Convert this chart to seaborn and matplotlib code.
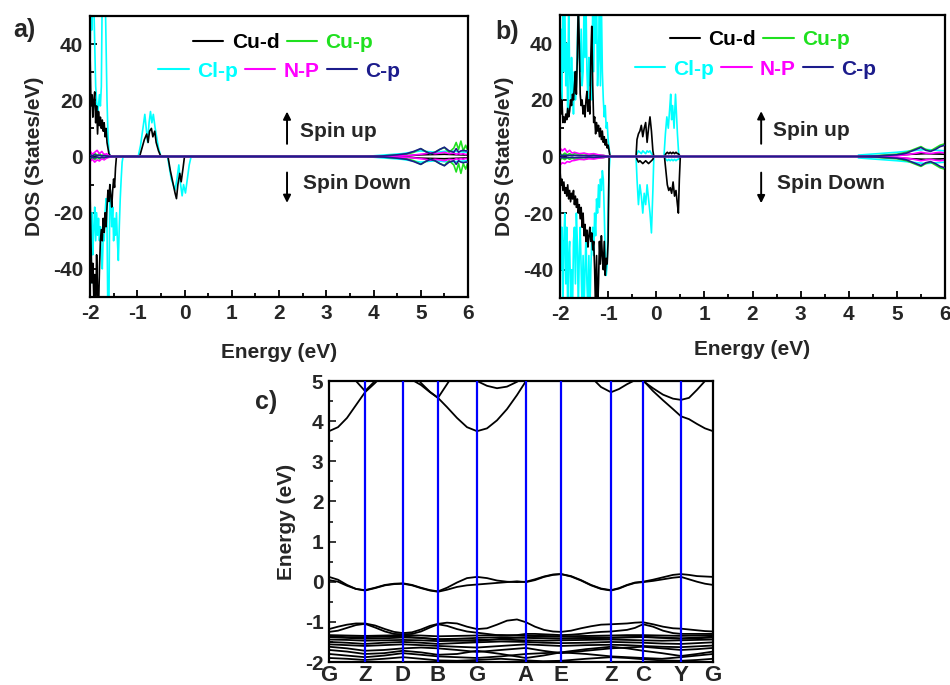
import numpy as np
import pandas as pd
import matplotlib
matplotlib.use("Agg")
import matplotlib.pyplot as plt
from matplotlib import font_manager
from matplotlib.lines import Line2D
from matplotlib.ticker import MultipleLocator
import seaborn as sns

# ---------------- data ----------------
LABELS = ["Cu-d", "Cu-p", "Cl-p", "N-P", "C-p"]
COLORS = ["#000000", "#1fe01f", "#00ffff", "#ff00ff", "#1c1c8c"]

# Panel a) ---------------------------------------------------------
A_CUD_UP_E = [-2.00, -1.98, -1.96, -1.94, -1.92, -1.90, -1.88, -1.86, -1.84, -1.82, -1.80, -1.78,
              -1.76, -1.74, -1.72, -1.70, -1.68, -1.66, -1.64, -1.62, -1.60, -1.58, -1.55,
              -0.95, -0.90, -0.85, -0.80, -0.77, -0.74, -0.70, -0.67, -0.63, -0.60, -0.55, -0.50,
              4.5, 5.0, 5.5, 6.0]
A_CUD_UP = [38, 18, 22, 14, 20, 23, 12, 18, 8, 16, 11, 14, 10, 13, 9, 12, 7, 10, 5, 3, 1, 0.5, 0,
            0, 3, 6, 8, 5, 9, 10, 7, 9, 5, 2, 0,
            0, 0.6, 0.8, 0.5]
A_CUD_DN_E = [-2.00, -1.98, -1.96, -1.94, -1.92, -1.90, -1.88, -1.86, -1.84, -1.82, -1.80, -1.78,
              -1.76, -1.74, -1.72, -1.70, -1.68, -1.66, -1.64, -1.62, -1.60, -1.58, -1.56, -1.54,
              -1.52, -1.50, -1.48, -1.46, -1.44,
              -0.35, -0.30, -0.25, -0.20, -0.17, -0.14, -0.10, -0.07, -0.03, 0.00,
              4.5, 5.0, 5.5, 6.0]
A_CUD_DN = [-12, -30, -45, -38, -50, -42, -55, -35, -48, -55, -40, -30, -26, -30, -22, -27, -20,
            -25, -18, -12, -16, -10, -14, -18, -12, -8, -11, -4, 0,
            0, -5, -9, -13, -15, -10, -6, -9, -4, 0,
            0, -0.6, -0.8, -0.5]
A_CLP_UP_E = [-2.00, -1.98, -1.96, -1.94, -1.92, -1.90, -1.88, -1.86, -1.84, -1.82, -1.80, -1.78,
              -1.76, -1.74, -1.72, -1.70, -1.68, -1.66, -1.64, -1.62, -1.60, -1.58,
              -0.98, -0.93, -0.88, -0.84, -0.81, -0.78, -0.75, -0.72, -0.69, -0.66, -0.62, -0.58,
              -0.55, -0.50,
              3.8, 4.2, 4.6, 5.0, 5.3, 5.6, 6.0]
A_CLP_UP = [30, 60, 45, 60, 55, 40, 25, 20, 15, 18, 22, 18, 25, 60, 60, 55, 60, 40, 20, 8, 2, 0,
            0, 4, 10, 15, 10, 5, 12, 16, 12, 15, 10, 6, 3, 0,
            0, 0.5, 1.0, 2.0, 1.5, 2.0, 1.5]
A_CLP_DN_E = [-2.00, -1.98, -1.96, -1.94, -1.92, -1.90, -1.88, -1.86, -1.84, -1.82, -1.80, -1.78,
              -1.76, -1.74, -1.72, -1.70, -1.68, -1.66, -1.64, -1.62, -1.60, -1.58, -1.56, -1.54,
              -1.52, -1.50, -1.48, -1.46, -1.44, -1.42, -1.40, -1.38, -1.36, -1.34, -1.32, -1.30,
              -0.36, -0.32, -0.28, -0.24, -0.20, -0.16, -0.12, -0.09, -0.05, -0.02, 0.02, 0.06,
              0.10, 0.14,
              3.8, 4.2, 4.6, 5.0, 5.3, 5.6, 6.0]
A_CLP_DN = [-30, -45, -20, -35, -25, -18, -30, -20, -28, -22, -30, -25, -35, -40, -28, -30, -20,
            -15, -25, -60, -55, -10, -15, -25, -18, -30, -22, -28, -20, -30, -37, -25, -15, -8, -2, 0,
            0, -4, -8, -10, -12, -8, -3, -9, -14, -10, -13, -8, -3, 0,
            0, -0.5, -1.0, -2.0, -1.5, -2.0, -1.5]
A_SMALL_E = [-2.0, -1.95, -1.9, -1.85, -1.8, -1.75, -1.7, -1.65, -1.6, -1.5, 3.8, 4.2, 4.5, 4.7,
             4.85, 5.0, 5.1, 5.2, 5.3, 5.4, 5.5, 5.6, 5.7, 5.75, 5.8, 5.85, 5.9, 5.95, 6.0]
A_CUP_UP = [1.0, 0.3, 1.2, 0.4, 1.0, 0.3, 0.8, 0.3, 0.2, 0.0, 0.0, 0.2, 0.5, 0.8, 1.5, 2.8, 1.8,
            1.0, 1.5, 2.5, 3.2, 1.5, 3.0, 5.0, 2.5, 5.5, 2.0, 4.0, 2.0]
A_CUP_DN = [-1.0, -0.4, -1.1, -0.3, -0.9, -0.4, -0.7, -0.3, -0.2, 0.0, 0.0, -0.2, -0.5, -0.8,
            -1.5, -2.8, -1.8, -1.0, -1.5, -2.5, -3.2, -1.5, -3.0, -5.5, -2.5, -6.0, -2.5, -4.5, -2.0]
A_NP_UP = [2.0, 0.8, 1.5, 2.2, 1.0, 1.8, 0.6, 1.0, 0.3, 0.0, 0.0, 0.1, 0.2, 0.3, 0.5, 0.8, 1.0,
           1.3, 1.0, 1.2, 1.5, 1.0, 1.2, 0.8, 1.0, 0.8, 1.0, 0.7, 0.8]
A_NP_DN = [-1.8, -1.0, -2.0, -1.2, -1.6, -0.8, -1.2, -0.6, -0.3, 0.0, 0.0, -0.1, -0.2, -0.3, -0.5,
           -0.8, -1.0, -1.3, -1.0, -1.2, -1.5, -1.0, -1.2, -0.8, -1.0, -0.8, -1.0, -0.7, -0.8]
A_CP_UP = [0.5, 0.2, 0.6, 0.3, 0.4, 0.2, 0.3, 0.2, 0.1, 0.0, 0.0, 0.2, 0.6, 1.0, 1.8, 2.8, 1.8,
           1.0, 1.5, 2.5, 3.3, 2.0, 1.5, 2.8, 1.5, 2.0, 2.2, 2.0, 2.0]
A_CP_DN = [-0.5, -0.3, -0.5, -0.2, -0.4, -0.3, -0.3, -0.2, -0.1, 0.0, 0.0, -0.2, -0.6, -1.0, -1.8,
           -2.8, -1.8, -1.0, -1.5, -2.5, -3.3, -2.0, -1.5, -2.8, -1.5, -2.0, -2.2, -2.0, -2.0]

# Panel b) ---------------------------------------------------------
B_LEFT_E = [-2.00, -1.98, -1.96, -1.94, -1.92, -1.90, -1.88, -1.86, -1.84, -1.82, -1.80, -1.78,
            -1.76, -1.74, -1.72, -1.70, -1.68, -1.66, -1.64, -1.62, -1.60, -1.58, -1.56, -1.54,
            -1.52, -1.50, -1.48, -1.46, -1.44, -1.42, -1.40, -1.38, -1.36, -1.34, -1.32, -1.30,
            -1.28, -1.26, -1.24, -1.22, -1.20, -1.18, -1.16, -1.14, -1.12, -1.10, -1.08, -1.06,
            -1.04, -1.02, -1.00, -0.98, -0.96]
B_CUD_UP_L = [25, 15, 20, 12, 14, 12, 15, 13, 17, 14, 16, 20, 18, 22, 20, 25, 30, 22, 35, 55,
              40, 22, 18, 20, 15, 18, 14, 20, 23, 16, 20, 15, 35, 46, 25, 12, 14, 8, 12, 9,
              11, 7, 10, 6, 9, 5, 7, 4, 6, 3, 4, 2, 0]
B_CUD_DN_L = [-5, -10, -8, -12, -9, -13, -11, -14, -10, -15, -12, -16, -13, -15, -12, -17, -14,
              -18, -15, -20, -17, -22, -18, -25, -20, -28, -24, -30, -26, -32, -28, -25, -30, -27,
              -33, -30, -40, -55, -35, -55, -45, -30, -38, -28, -35, -40, -30, -42, -36, -38, -30,
              0, 0]
B_CLP_UP_L = [10, 45, 20, 55, 30, 55, 25, 40, 15, 55, 30, 20, 35, 25, 15, 30, 20, 25, 40, 55,
              35, 30, 45, 25, 30, 55, 35, 55, 30, 20, 35, 25, 30, 20, 55, 30, 55, 40, 55, 25,
              35, 55, 25, 55, 30, 20, 14, 18, 10, 12, 6, 3, 0]
B_CLP_DN_L = [-10, -40, -25, -55, -30, -20, -45, -25, -55, -35, -30, -50, -40, -55, -30, -25, -45,
              -20, -30, -55, -35, -25, -40, -55, -35, -55, -40, -28, -45, -55, -35, -55, -40, -30,
              -25, -35, -20, -28, -15, -20, -10, -18, -8, -12, -5, -8, -20, -35, -42, -38, -20, -5, 0]
B_MID_E = [-0.42, -0.40, -0.37, -0.34, -0.31, -0.28, -0.25, -0.22, -0.19, -0.16, -0.13, -0.10,
           -0.07, -0.05]
B_CUD_UP_M = [0, 6, 8, 9, 11, 7, 10, 12, 5, 10, 14, 9, 2, 0]
B_CUD_DN_M = [0, -1, -2, -1.5, -2, -2.5, -2, -1.5, -2, -2.5, -2, -1.5, -1, 0]
B_CLP_UP_M = [0, 1, 2, 1.5, 1, 2, 1.5, 1, 2, 1.5, 2, 1, 0.5, 0]
B_CLP_DN_M = [0, -8, -17, -10, -14, -20, -13, -17, -10, -15, -20, -27, -12, 0]
B_CLP_UP2_E = [0.16, 0.19, 0.22, 0.25, 0.28, 0.30, 0.32, 0.34, 0.37, 0.40, 0.42, 0.44, 0.47]
B_CLP_UP2 = [0, 8, 14, 10, 17, 22, 13, 18, 10, 22, 15, 8, 0]
B_CUD_DN2_E = [0.17, 0.20, 0.23, 0.26, 0.29, 0.32, 0.35, 0.38, 0.41, 0.44, 0.46, 0.48, 0.50]
B_CUD_DN2 = [0, -5, -10, -12, -11, -13, -9, -14, -12, -17, -20, -8, 0]
B_CUD_UP2 = [0, 1, 1.5, 1, 1.5, 1, 1.5, 1, 1.5, 1, 1, 0.5, 0]
B_CLP_DN2 = [0, -1, -1.5, -1, -1.5, -1, -1.5, -1, -1.5, -1, -1, -0.5, 0]
B_END_E = [4.2, 4.6, 5.0, 5.3, 5.6, 6.0]
B_CUD_END = [0.0, 0.2, 0.5, 0.8, 1.0, 0.8]
B_CLP_END = [0.5, 1.0, 1.5, 2.0, 2.5, 2.0]
B_SMALL_E = [-2.0, -1.95, -1.9, -1.85, -1.8, -1.75, -1.7, -1.6, -1.5, -1.4, -1.3, -1.2, -1.1,
             -1.0, 4.2, 4.6, 5.0, 5.2, 5.35, 5.5, 5.6, 5.7, 5.8, 5.9, 6.0]
B_CUP_UP = [1.0, 0.5, 1.2, 0.6, 1.0, 0.5, 1.0, 0.8, 1.0, 0.6, 0.8, 0.5, 0.4, 0.0, 0.0, 0.3, 0.8,
            1.5, 2.5, 3.5, 2.5, 2.0, 3.0, 4.0, 4.5]
B_CUP_DN = [-1.0, -0.6, -1.1, -0.5, -1.0, -0.6, -0.9, -0.8, -1.0, -0.5, -0.7, -0.5, -0.4, 0.0,
            0.0, -0.3, -0.8, -1.5, -2.5, -3.5, -2.5, -2.0, -3.0, -4.0, -4.5]
B_NP_UP = [3.0, 2.0, 2.8, 1.5, 2.2, 1.2, 1.5, 1.0, 1.2, 0.8, 1.0, 0.6, 0.4, 0.0, 0.0, 0.1, 0.3,
           0.6, 1.0, 1.5, 1.2, 1.0, 1.3, 1.5, 1.2]
B_NP_DN = [-3.0, -2.2, -2.5, -1.8, -2.0, -1.5, -1.4, -1.0, -1.1, -0.8, -0.9, -0.6, -0.4, 0.0,
           0.0, -0.1, -0.3, -0.6, -1.0, -1.5, -1.2, -1.0, -1.3, -1.5, -1.2]
B_CP_UP = [0.5, 0.3, 0.5, 0.3, 0.4, 0.3, 0.4, 0.3, 0.3, 0.2, 0.3, 0.2, 0.1, 0.0, 0.0, 0.2, 0.6,
           1.2, 2.2, 3.2, 2.2, 1.8, 2.5, 3.5, 4.0]
B_CP_DN = [-0.5, -0.3, -0.5, -0.3, -0.4, -0.3, -0.4, -0.3, -0.3, -0.2, -0.3, -0.2, -0.1, 0.0,
           0.0, -0.2, -0.6, -1.2, -2.2, -3.2, -2.2, -1.8, -2.5, -3.5, -4.0]

# Panel c) band structure ----------------------------------------------
KPATH_LABELS = ["G", "Z", "D", "B", "G", "A", "E", "Z", "C", "Y", "G"]
KPATH_POS = [0, 36, 74, 109, 148, 197, 232, 282, 314, 352, 384]
K43 = [0, 9, 18, 27, 36, 46, 56, 65, 74, 83, 92, 101, 109, 118, 128, 138, 148, 158, 168, 178,
       188, 197, 206, 215, 224, 232, 242, 252, 262, 272, 282, 290, 298, 306, 314, 324, 334, 344,
       352, 360, 368, 376, 384]
CB1 = [3.75, 3.85, 4.08, 4.40, 4.72, 4.95, 5.20, 5.40, 5.45, 5.25, 4.95, 4.73, 4.58, 4.35, 4.08,
       3.85, 3.75, 3.82, 4.02, 4.30, 4.65, 5.00, 5.30, 5.50, 5.60, 5.60, 5.50, 5.30, 5.10, 4.85,
       4.72, 4.80, 4.92, 5.02, 5.02, 4.75, 4.52, 4.30, 4.12, 4.05, 3.93, 3.82, 3.75]
CB2_K = [9, 18, 27, 36, 46, 56, 65, 74, 83, 92, 101, 109, 118, 128]
CB2 = [5.40, 5.20, 5.00, 4.75, 5.00, 5.10, 5.02, 5.00, 5.03, 4.90, 4.72, 4.58, 4.92, 5.30]
CB3_K = [138, 148, 158, 168, 178, 188, 197]
CB3 = [5.20, 5.00, 4.88, 4.82, 4.86, 4.98, 5.15]
CB4_K = [306, 314, 324, 334, 344, 352, 360, 368, 376, 384]
CB4 = [5.20, 5.00, 4.82, 4.66, 4.56, 4.53, 4.58, 4.78, 5.00, 5.20]
VB1 = [0.12, 0.05, -0.08, -0.18, -0.21, -0.15, -0.08, -0.05, -0.04, -0.08, -0.15, -0.21, -0.24,
       -0.15, -0.02, 0.09, 0.12, 0.09, 0.03, 0.00, -0.01, 0.00, 0.06, 0.13, 0.18, 0.19, 0.14,
       0.04, -0.08, -0.17, -0.21, -0.16, -0.08, -0.02, 0.00, 0.05, 0.11, 0.17, 0.19, 0.17, 0.14,
       0.13, 0.12]
VB2 = [0.04, 0.00, -0.10, -0.18, -0.22, -0.16, -0.09, -0.06, -0.05, -0.09, -0.16, -0.22, -0.25,
       -0.20, -0.13, -0.09, -0.07, -0.05, -0.03, -0.01, 0.01, -0.01, 0.04, 0.12, 0.17, 0.19, 0.13,
       0.03, -0.09, -0.18, -0.22, -0.17, -0.09, -0.03, -0.01, 0.02, 0.06, 0.10, 0.12, 0.06, 0.00,
       -0.05, -0.08]
VB3 = [-1.18, -1.12, -1.07, -1.04, -1.04, -1.09, -1.18, -1.25, -1.28, -1.26, -1.19, -1.10, -1.05,
       -1.02, -1.04, -1.12, -1.18, -1.16, -1.07, -0.97, -0.94, -1.01, -1.12, -1.20, -1.24, -1.25,
       -1.22, -1.16, -1.11, -1.07, -1.06, -1.05, -1.04, -1.02, -1.01, -1.06, -1.12, -1.16, -1.17,
       -1.19, -1.21, -1.23, -1.24]
VB4 = [-1.25, -1.22, -1.15, -1.08, -1.05, -1.14, -1.24, -1.30, -1.31, -1.30, -1.24, -1.14, -1.06,
       -1.10, -1.18, -1.24, -1.27, -1.30, -1.33, -1.34, -1.33, -1.30, -1.30, -1.31, -1.32, -1.33,
       -1.32, -1.30, -1.27, -1.25, -1.24, -1.22, -1.20, -1.15, -1.06, -1.12, -1.22, -1.28, -1.30,
       -1.30, -1.30, -1.30, -1.30]
K21 = [0, 18, 36, 55, 74, 92, 109, 128, 148, 172, 197, 214, 232, 257, 282, 298, 314, 333, 352,
       368, 384]
FB1 = [-1.33, -1.34, -1.35, -1.34, -1.33, -1.34, -1.36, -1.35, -1.34, -1.33, -1.34, -1.35, -1.36,
       -1.35, -1.34, -1.33, -1.33, -1.34, -1.35, -1.34, -1.33]
FB2 = [-1.38, -1.40, -1.42, -1.41, -1.39, -1.40, -1.43, -1.42, -1.40, -1.38, -1.40, -1.41, -1.42,
       -1.41, -1.40, -1.39, -1.38, -1.40, -1.42, -1.41, -1.39]
FB3 = [-1.44, -1.45, -1.47, -1.46, -1.45, -1.46, -1.48, -1.47, -1.45, -1.44, -1.46, -1.47, -1.46,
       -1.45, -1.44, -1.45, -1.46, -1.47, -1.46, -1.45, -1.44]
FB4 = [-1.50, -1.52, -1.55, -1.52, -1.50, -1.52, -1.55, -1.53, -1.51, -1.49, -1.50, -1.52, -1.53,
       -1.52, -1.50, -1.51, -1.52, -1.54, -1.55, -1.53, -1.51]
FB5 = [-1.56, -1.58, -1.60, -1.58, -1.56, -1.58, -1.60, -1.62, -1.64, -1.60, -1.56, -1.58, -1.60,
       -1.58, -1.57, -1.58, -1.60, -1.62, -1.63, -1.61, -1.59]
FB6 = [-1.62, -1.66, -1.72, -1.70, -1.66, -1.64, -1.66, -1.70, -1.75, -1.70, -1.65, -1.72, -1.78,
       -1.72, -1.66, -1.64, -1.62, -1.66, -1.70, -1.68, -1.65]
FB7 = [-1.70, -1.74, -1.80, -1.78, -1.72, -1.76, -1.82, -1.80, -1.72, -1.80, -1.90, -1.84, -1.76,
       -1.68, -1.62, -1.66, -1.72, -1.78, -1.85, -1.80, -1.74]
FB8 = [-1.80, -1.84, -1.88, -1.84, -1.78, -1.82, -1.86, -1.88, -1.90, -1.86, -1.80, -1.78, -1.76,
       -1.80, -1.86, -1.88, -1.90, -1.92, -1.88, -1.84, -1.80]
FB9 = [-1.90, -1.92, -1.95, -1.92, -1.88, -1.92, -1.96, -1.97, -1.95, -1.92, -1.96, -1.98, -1.97,
       -1.92, -1.88, -1.90, -1.93, -1.96, -1.97, -1.95, -1.92]
FB10 = [-1.36, -1.38, -1.38, -1.37, -1.36, -1.40, -1.44, -1.46, -1.48, -1.42, -1.38, -1.37, -1.37,
        -1.38, -1.39, -1.38, -1.37, -1.39, -1.41, -1.39, -1.37]

# ---------------- style ----------------
sns.set_theme(style="white")
names = {f.name for f in font_manager.fontManager.ttflist}
MAIN = "Liberation Sans" if "Liberation Sans" in names else "DejaVu Sans"
NARROW = "Liberation Sans Narrow" if "Liberation Sans Narrow" in names else MAIN
plt.rcParams["font.family"] = [MAIN, "DejaVu Sans"]
plt.rcParams["font.weight"] = "bold"
plt.rcParams["axes.labelweight"] = "bold"
plt.rcParams["axes.unicode_minus"] = False

fig = plt.figure(figsize=(9.5, 6.85), dpi=100)
fig.patch.set_facecolor("white")

ax_a = fig.add_axes([90 / 950, 1 - 297 / 685, 378 / 950, 281 / 685])
ax_b = fig.add_axes([560 / 950, 1 - 298 / 685, 385 / 950, 283 / 685])
ax_c = fig.add_axes([329 / 950, 1 - 662 / 685, 384 / 950, 281 / 685])


def line(ax, x, y, color, lw=1.2, z=2):
    sns.lineplot(x=x, y=y, ax=ax, color=color, lw=lw, estimator=None, sort=False,
                 legend=False, zorder=z)


def style_dos(ax, ylab_pad):
    ax.set_xlim(-2, 6)
    ax.set_ylim(-50, 50)
    ax.set_xticks(range(-2, 7))
    ax.xaxis.set_minor_locator(MultipleLocator(0.5))
    ax.set_yticks([-40, -20, 0, 20, 40])
    ax.yaxis.set_minor_locator(MultipleLocator(10))
    ax.tick_params(which="both", direction="in", top=False, right=False, bottom=True, left=True,
                   width=1.3, color="black")
    ax.tick_params(which="major", length=5, labelsize=15, pad=5)
    ax.tick_params(which="minor", length=3)
    for t in ax.get_xticklabels() + ax.get_yticklabels():
        t.set_fontfamily([NARROW, "DejaVu Sans"])
        t.set_fontweight("bold")
    for s in ax.spines.values():
        s.set_linewidth(1.6)
        s.set_color("black")
        s.set_visible(True)
    ax.set_ylabel("DOS (States/eV)", fontsize=15, fontweight="bold", labelpad=ylab_pad)
    ax.set_xlabel("Energy (eV)", fontsize=15, fontweight="bold")


def legend_rows(ax, r1, r2):
    hs = [Line2D([], [], color=c, lw=1.5) for c in COLORS]
    kw = dict(loc="center", frameon=False, handlelength=1.45, handletextpad=0.4,
              columnspacing=0.35, borderpad=0, borderaxespad=0,
              prop=dict(weight="bold", size=15, family=[MAIN]))
    l1 = ax.legend(hs[:2], LABELS[:2], ncol=2, bbox_to_anchor=r1, labelcolor=COLORS[:2], **kw)
    ax.add_artist(l1)
    ax.legend(hs[2:], LABELS[2:], ncol=3, bbox_to_anchor=r2, labelcolor=COLORS[2:], **kw)


def spin_marks(ax, xa, xt, yu, yd):
    ap = dict(arrowstyle="-|>", color="black", lw=1.4, mutation_scale=11, shrinkA=0, shrinkB=0)
    ax.annotate("", xy=(xa, 16), xytext=(xa, 4.5), arrowprops=ap)
    ax.annotate("", xy=(xa, -16.5), xytext=(xa, -5.7), arrowprops=ap)
    ax.text(xt, yu, "Spin up", fontsize=15, fontweight="bold", va="center", ha="left")
    ax.text(xt + 0.07, yd, "Spin Down", fontsize=15, fontweight="bold", va="center", ha="left")


# ---- panel a
line(ax_a, A_CLP_UP_E, A_CLP_UP, COLORS[2])
line(ax_a, A_CLP_DN_E, A_CLP_DN, COLORS[2])
line(ax_a, A_CUD_UP_E, A_CUD_UP, COLORS[0])
line(ax_a, A_CUD_DN_E, A_CUD_DN, COLORS[0])
line(ax_a, A_SMALL_E, A_CUP_UP, COLORS[1])
line(ax_a, A_SMALL_E, A_CUP_DN, COLORS[1])
line(ax_a, A_SMALL_E, A_NP_UP, COLORS[3])
line(ax_a, A_SMALL_E, A_NP_DN, COLORS[3])
line(ax_a, A_SMALL_E, A_CP_UP, COLORS[4], z=3)
line(ax_a, A_SMALL_E, A_CP_DN, COLORS[4], z=3)
style_dos(ax_a, 6)
legend_rows(ax_a, (0.511, 0.904), (0.501, 0.804))
spin_marks(ax_a, 2.17, 2.44, 8.9, -9.6)
ax_a.xaxis.set_label_coords(0.5, -0.165)

# ---- panel b
line(ax_b, B_LEFT_E, B_CLP_UP_L, COLORS[2])
line(ax_b, B_LEFT_E, B_CLP_DN_L, COLORS[2])
line(ax_b, B_MID_E, B_CLP_UP_M, COLORS[2])
line(ax_b, B_MID_E, B_CLP_DN_M, COLORS[2])
line(ax_b, B_CLP_UP2_E, B_CLP_UP2, COLORS[2])
line(ax_b, B_CUD_DN2_E, B_CLP_DN2, COLORS[2])
line(ax_b, B_END_E, B_CLP_END, COLORS[2])
line(ax_b, B_END_E, [-v for v in B_CLP_END], COLORS[2])
line(ax_b, B_LEFT_E, B_CUD_UP_L, COLORS[0])
line(ax_b, B_LEFT_E, B_CUD_DN_L, COLORS[0])
line(ax_b, B_MID_E, B_CUD_UP_M, COLORS[0])
line(ax_b, B_MID_E, B_CUD_DN_M, COLORS[0])
line(ax_b, B_CUD_DN2_E, B_CUD_DN2, COLORS[0])
line(ax_b, B_CUD_DN2_E, B_CUD_UP2, COLORS[0])
line(ax_b, B_END_E, B_CUD_END, COLORS[0])
line(ax_b, B_END_E, [-v for v in B_CUD_END], COLORS[0])
line(ax_b, B_SMALL_E, B_CUP_UP, COLORS[1])
line(ax_b, B_SMALL_E, B_CUP_DN, COLORS[1])
line(ax_b, B_SMALL_E, B_NP_UP, COLORS[3])
line(ax_b, B_SMALL_E, B_NP_DN, COLORS[3])
line(ax_b, B_SMALL_E, B_CP_UP, COLORS[4], z=3)
line(ax_b, B_SMALL_E, B_CP_DN, COLORS[4], z=3)
style_dos(ax_b, 6)
legend_rows(ax_b, (0.519, 0.912), (0.508, 0.809))
spin_marks(ax_b, 2.18, 2.43, 9.2, -9.5)
ax_b.xaxis.set_label_coords(0.5, -0.15)

# ---- panel c
bands = [(K43, CB1), (CB2_K, CB2), (CB3_K, CB3), (CB4_K, CB4), (K43, VB1), (K43, VB2),
         (K43, VB3), (K43, VB4), (K21, FB1), (K21, FB2), (K21, FB3), (K21, FB4), (K21, FB5),
         (K21, FB6), (K21, FB7), (K21, FB8), (K21, FB9), (K21, FB10)]
rows = []
for i, (ks, es) in enumerate(bands):
    for k, e in zip(ks, es):
        rows.append({"band": i, "k": k, "E": e})
df_bands = pd.DataFrame(rows)
sns.lineplot(data=df_bands, x="k", y="E", units="band", estimator=None, sort=False,
             color="black", lw=1.3, ax=ax_c, legend=False)
for kp in KPATH_POS[1:-1]:
    ax_c.axvline(kp, color="#0000ff", lw=1.6, zorder=4)
ax_c.set_xlim(KPATH_POS[0], KPATH_POS[-1])
ax_c.set_ylim(-2, 5)
ax_c.set_xticks(KPATH_POS)
ax_c.set_xticklabels(KPATH_LABELS)
ax_c.set_yticks(range(-2, 6))
ax_c.yaxis.set_minor_locator(MultipleLocator(0.5))
ax_c.tick_params(axis="x", which="both", length=0, labelsize=16, pad=2)
ax_c.tick_params(axis="y", which="both", direction="in", left=True, right=False, width=1.3,
                 labelsize=15, pad=4)
ax_c.tick_params(axis="y", which="major", length=5)
ax_c.tick_params(axis="y", which="minor", length=3)
for t in ax_c.get_xticklabels() + ax_c.get_yticklabels():
    t.set_fontfamily([NARROW, "DejaVu Sans"])
    t.set_fontweight("bold")
for s in ax_c.spines.values():
    s.set_linewidth(1.6)
    s.set_color("black")
    s.set_visible(True)
ax_c.set_xlabel("")
ax_c.set_ylabel("Energy (eV)", fontsize=15, fontweight="bold", labelpad=6)

# panel letters
fig.text(24 / 950, 1 - 30 / 685, "a)", fontsize=18, fontweight="bold", ha="center", va="center")
fig.text(507 / 950, 1 - 32 / 685, "b)", fontsize=18, fontweight="bold", ha="center", va="center")
fig.text(266 / 950, 1 - 402 / 685, "c)", fontsize=18, fontweight="bold", ha="center", va="center")

fig.savefig("out.png", dpi=100, facecolor="white")
